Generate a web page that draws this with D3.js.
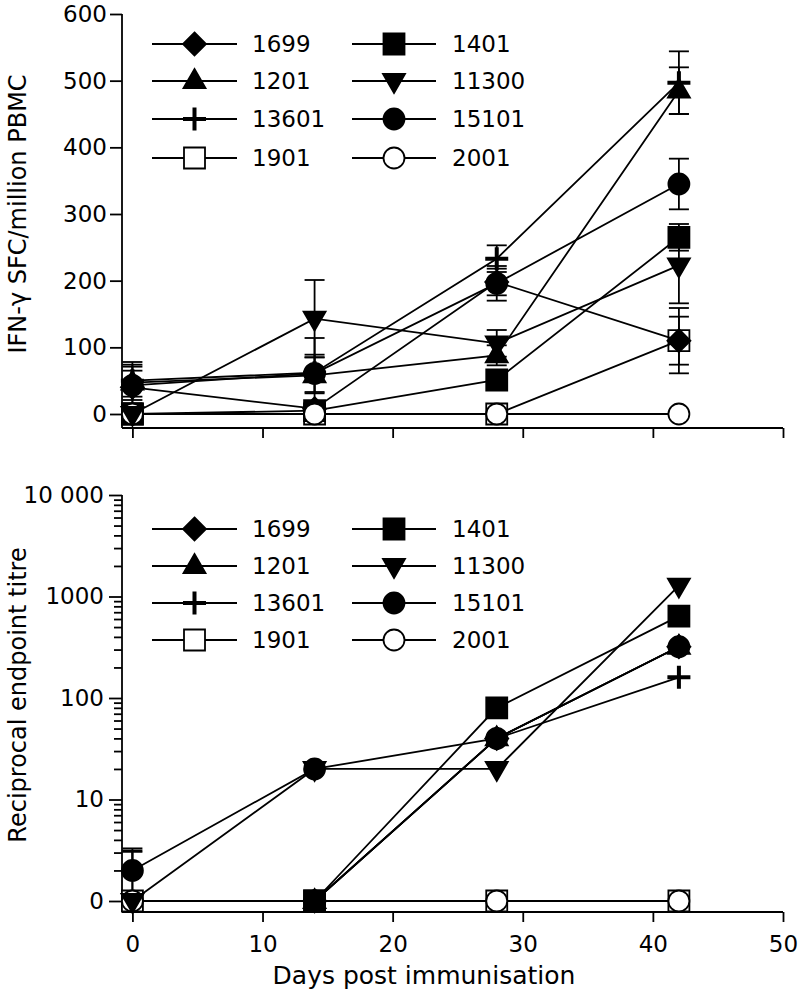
<!DOCTYPE html>
<html><head><meta charset="utf-8">
<script src="https://cdn.jsdelivr.net/npm/d3@7"></script>
<style>
body{margin:0;background:#fff}
text{font-family:"DejaVu Sans",sans-serif;fill:#000}
</style>
</head><body>
<svg id="c" width="799" height="993"></svg>
<script>
// ---------- DATA ----------
const days = [0, 14, 28, 42];
const seriesNames = ["1699", "1401", "1201", "11300", "13601", "15101", "1901", "2001"];
const xTickValues = [0, 10, 20, 30, 40, 50];
const yTopTickValues = [0, 100, 200, 300, 400, 500, 600];
const yBotTickValues = [1, 10, 100, 1000, 10000];
const yBotTickLabels = ["0", "10", "100", "1000", "10 000"];

// Top panel: IFN-gamma SFC / million PBMC (mean) and SEM
const ifn1699  = [40, 8, 198, 110];   const ifnErr1699  = [31, 8, 20, 36];
const ifn1401  = [0, 5, 51, 265];     const ifnErr1401  = [0, 5, 15, 20];
const ifn1201  = [47, 58, 88, 485];   const ifnErr1201  = [31, 27, 15, 35];
const ifn11300 = [0, 143, 106, 223];  const ifnErr11300 = [0, 58, 20, 57];
const ifn13601 = [50, 62, 233, 497];  const ifnErr13601 = [24, 52, 20, 47];
const ifn15101 = [43, 61, 196, 345];  const ifnErr15101 = [22, 28, 26, 38];
const ifn1901  = [0, 0, 0, 110];      const ifnErr1901  = [0, 0, 0, 49];
const ifn2001  = [0, 0, 0, 0];        const ifnErr2001  = [0, 0, 0, 0];

// Bottom panel: reciprocal endpoint titre (0 plotted at 1, null = not plotted) and upper error limits
const titre1699  = [null, 1, 40, 320];  const titreUp1699  = [null, null, null, null];
const titre1401  = [null, 1, 80, 640];  const titreUp1401  = [null, null, null, null];
const titre1201  = [null, 1, 40, 320];  const titreUp1201  = [null, null, null, null];
const titre11300 = [1, 20, 20, 1280];   const titreUp11300 = [3.15, null, null, null];
const titre13601 = [null, 1, 40, 160];  const titreUp13601 = [null, null, null, null];
const titre15101 = [2, 20, 40, 320];    const titreUp15101 = [3.3, null, null, null];
const titre1901  = [1, 1, 1, 1];        const titreUp1901  = [3.05, null, null, null];
const titre2001  = [1, 1, 1, 1];        const titreUp2001  = [null, null, null, null];

// ---------- TABLES ----------
const topVals = {"1699":ifn1699,"1401":ifn1401,"1201":ifn1201,"11300":ifn11300,"13601":ifn13601,"15101":ifn15101,"1901":ifn1901,"2001":ifn2001};
const topErrs = {"1699":ifnErr1699,"1401":ifnErr1401,"1201":ifnErr1201,"11300":ifnErr11300,"13601":ifnErr13601,"15101":ifnErr15101,"1901":ifnErr1901,"2001":ifnErr2001};
const botVals = {"1699":titre1699,"1401":titre1401,"1201":titre1201,"11300":titre11300,"13601":titre13601,"15101":titre15101,"1901":titre1901,"2001":titre2001};
const botUps  = {"1699":titreUp1699,"1401":titreUp1401,"1201":titreUp1201,"11300":titreUp11300,"13601":titreUp13601,"15101":titreUp15101,"1901":titreUp1901,"2001":titreUp2001};

const shapes = {"1699":"diamond","1401":"square","1201":"triUp","11300":"triDown","13601":"plus","15101":"circle","1901":"square","2001":"circle"};
const fills  = {"1699":"#000","1401":"#000","1201":"#000","11300":"#000","13601":"none","15101":"#000","1901":"#fff","2001":"#fff"};

const topOrder = ["1699","1401","1901","2001","1201","11300","13601","15101"];
const botOrder = ["1901","2001","1699","1401","1201","11300","13601","15101"];

// ---------- DRAW ----------
const svg = d3.select("#c");
const LW = 1.8;
const x = d3.scaleLinear().domain([-0.8, 50]).range([122, 783]);
const yTop = d3.scaleLinear().domain([0, 600]).range([414, 14]);
const yBot = d3.scaleLog().domain([1, 10000]).range([901, 495]);
const topBase = 428, botBase = 912;

function shapePath(kind) {
  const p = d3.path();
  const r = 10.5;
  if (kind === "square") { p.rect(-r, -r, 2*r, 2*r); }
  else if (kind === "circle") { p.arc(0, 0, r, 0, 2*Math.PI); p.closePath(); }
  else if (kind === "diamond") { const d=11.5; p.moveTo(0,-d); p.lineTo(d,0); p.lineTo(0,d); p.lineTo(-d,0); p.closePath(); }
  else if (kind === "triUp") { p.moveTo(0,-12); p.lineTo(11,7); p.lineTo(-11,7); p.closePath(); }
  else if (kind === "triDown") { p.moveTo(0,12); p.lineTo(11,-7); p.lineTo(-11,-7); p.closePath(); }
  else if (kind === "plus") { const d=11.5; p.moveTo(-d,0); p.lineTo(d,0); p.moveTo(0,-d); p.lineTo(0,d); }
  return p.toString();
}
function drawMarker(g, name, cx, cy, fillOverride) {
  const k = shapes[name];
  const f = fillOverride !== undefined ? fillOverride : fills[name];
  g.append("path").attr("d", shapePath(k))
    .attr("transform", `translate(${cx},${cy})`)
    .attr("fill", k === "plus" ? "none" : f)
    .attr("stroke", "#000")
    .attr("stroke-width", k === "plus" ? 4 : LW);
}

function drawPanel(opt) {
  const g = svg.append("g");
  const y = opt.y;
  const ya = g.append("g").attr("transform", "translate(122,0)");
  opt.yAxis(ya);
  ya.select(".domain").remove();
  ya.selectAll("line").attr("stroke-width", LW);
  ya.selectAll("text").style("font-size", "23px").style("font-family", "DejaVu Sans");
  g.append("line").attr("x1",122).attr("x2",122).attr("y1",opt.yTopPx).attr("y2",opt.base)
    .attr("stroke","#000").attr("stroke-width",LW);
  const xa = g.append("g").attr("transform", `translate(0,${opt.base})`)
    .call(d3.axisBottom(x).tickValues(xTickValues).tickSize(10).tickSizeOuter(0).tickPadding(14)
      .tickFormat(opt.xLabels ? d3.format("d") : () => ""));
  xa.select(".domain").attr("d", `M122,0H783`).attr("stroke-width", LW);
  xa.selectAll("line").attr("stroke-width", LW);
  xa.selectAll("text").style("font-size", "23px").style("font-family", "DejaVu Sans");

  // lines
  seriesNames.forEach(n => {
    const vals = opt.vals[n];
    g.append("path").datum(days.map((d,i)=>[d, vals[i]]))
      .attr("d", d3.line().defined(d => d[1] != null).x(d=>x(d[0])).y(d=>y(d[1])))
      .attr("fill","none").attr("stroke","#000").attr("stroke-width",LW);
  });
  // error bars
  seriesNames.forEach(n => {
    days.forEach((d,i) => {
      const lim = opt.errLimits(n, i);
      if (!lim) return;
      const [lo, hi] = lim;
      const cx = x(d);
      g.append("line").attr("x1",cx).attr("x2",cx).attr("y1",y(lo)).attr("y2",y(hi))
        .attr("stroke","#000").attr("stroke-width",LW);
      [hi].concat(opt.lowerCaps ? [lo] : []).forEach(v => {
        g.append("line").attr("x1",cx-10).attr("x2",cx+10).attr("y1",y(v)).attr("y2",y(v))
          .attr("stroke","#000").attr("stroke-width",LW);
      });
    });
  });
  // markers
  opt.order.forEach(n => {
    const vals = opt.vals[n];
    days.forEach((d,i) => {
      if (vals[i] == null) return;
      drawMarker(g, n, x(d), y(vals[i]), opt.fillFor ? opt.fillFor(n) : undefined);
    });
  });
  // legend
  const cols = [{x1:152, x2:237, tx:252}, {x1:352, x2:436, tx:452}];
  seriesNames.forEach((n, i) => {
    const c = cols[i % 2];
    const ry = opt.legendRows[Math.floor(i/2)];
    g.append("line").attr("x1",c.x1).attr("x2",c.x2).attr("y1",ry).attr("y2",ry)
      .attr("stroke","#000").attr("stroke-width",LW);
    drawMarker(g, n, (c.x1+c.x2)/2, ry);
    g.append("text").attr("x", c.tx).attr("y", ry).attr("dy","0.36em")
      .style("font-size","23px").text(n);
  });
}

drawPanel({
  y: yTop, vals: topVals, base: topBase, yTopPx: yTop(600), xLabels: false,
  order: topOrder,
  fillFor: n => n === "1901" ? "none" : fills[n],
  yAxis: a => a.call(d3.axisLeft(yTop).tickValues(yTopTickValues).tickSize(12).tickPadding(3).tickFormat(d3.format("d"))),
  errLimits: (n, i) => topErrs[n][i] > 0 ? [Math.max(0, topVals[n][i]-topErrs[n][i]), topVals[n][i]+topErrs[n][i]] : null,
  lowerCaps: true,
  legendRows: [44, 81, 119, 158]
});

const minorTicks = [];
[1, 10, 100, 1000].forEach(dec => { for (let m = 2; m <= 9; m++) minorTicks.push(dec*m); });

drawPanel({
  y: yBot, vals: botVals, base: botBase, yTopPx: yBot(10000), xLabels: true,
  order: botOrder,
  yAxis: a => {
    a.call(d3.axisLeft(yBot).tickValues(yBotTickValues).tickSize(13).tickPadding(5)
      .tickFormat((d,i) => yBotTickLabels[i]));
    const m = a.append("g").call(d3.axisLeft(yBot).tickValues(minorTicks).tickSize(8).tickFormat(() => ""));
    m.select(".domain").remove();
  },
  errLimits: (n, i) => botUps[n][i] ? [botVals[n][i], botUps[n][i]] : null,
  lowerCaps: false,
  legendRows: [529, 566, 603, 640]
});

// axis titles
svg.append("text").attr("transform","translate(17,214) rotate(-90)").attr("text-anchor","middle")
  .attr("dy","0.36em").style("font-size","24px").text("IFN-γ SFC/million PBMC");
svg.append("text").attr("transform","translate(17,695) rotate(-90)").attr("text-anchor","middle")
  .attr("dy","0.36em").style("font-size","24px").text("Reciprocal endpoint titre");
svg.append("text").attr("x",424).attr("y",975).attr("text-anchor","middle")
  .attr("dy","0.36em").style("font-size","25px").text("Days post immunisation");
</script>
</body></html>
